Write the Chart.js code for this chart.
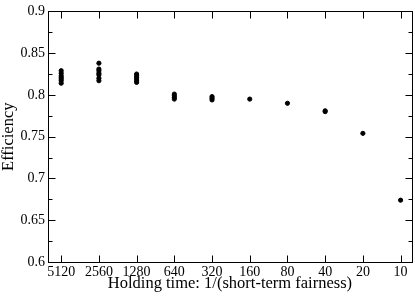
<!DOCTYPE html>
<html>
<head>
<meta charset="utf-8">
<script src="https://cdn.jsdelivr.net/npm/chart.js@4"></script>
<style>
  html, body { margin: 0; padding: 0; background: #fff; }
</style>
</head>
<body>
<canvas id="chart" width="415" height="296"></canvas>
<script>
// holding time categories (left to right)
const categories = ['5120', '2560', '1280', '640', '320', '160', '80', '40', '20', '10'];

// efficiency of each run, one list per category
const efficiency = [
  [0.829, 0.826, 0.823, 0.821, 0.819, 0.817, 0.814],
  [0.838, 0.831, 0.829, 0.826, 0.824, 0.820, 0.817],
  [0.825, 0.823, 0.821, 0.819, 0.817, 0.815],
  [0.801, 0.799, 0.797, 0.795],
  [0.798, 0.796, 0.794],
  [0.795],
  [0.790],
  [0.780, 0.781],
  [0.754],
  [0.674]
];

const yTicks = [0.6, 0.65, 0.7, 0.75, 0.8, 0.85, 0.9];

const points = [];
efficiency.forEach(function (list, i) {
  list.forEach(function (v) { points.push({ x: i, y: v }); });
});

// frame with inward ticks on all four sides
const frameTicks = {
  id: 'frameTicks',
  afterDraw: function (chart) {
    const ctx = chart.ctx;
    const a = chart.chartArea;
    const xs = chart.scales.x;
    const ys = chart.scales.y;
    const L = Math.round(a.left) + 0.5, R = Math.round(a.right) + 0.5;
    const T = Math.round(a.top) + 0.5, B = Math.round(a.bottom) + 0.5;
    ctx.save();
    ctx.strokeStyle = '#000';
    ctx.lineWidth = 1;
    ctx.beginPath();
    categories.forEach(function (c, i) {
      const px = Math.round(xs.getPixelForValue(i)) + 0.5;
      ctx.moveTo(px, B); ctx.lineTo(px, B - 7);
      ctx.moveTo(px, T); ctx.lineTo(px, T + 7);
    });
    for (let k = 0; k <= 12; k++) {
      const v = 0.6 + k * 0.025;
      const py = Math.round(ys.getPixelForValue(v)) + 0.5;
      const len = k % 2 === 0 ? 7 : 4;
      ctx.moveTo(L, py); ctx.lineTo(L + len, py);
      ctx.moveTo(R, py); ctx.lineTo(R - len, py);
    }
    ctx.stroke();
    ctx.strokeRect(L, T, R - L, B - T);
    ctx.restore();
  }
};

new Chart(document.getElementById('chart').getContext('2d'), {
  type: 'scatter',
  data: {
    datasets: [{
      data: points,
      backgroundColor: '#000',
      borderColor: '#000',
      pointRadius: 2.1,
      pointHoverRadius: 2.1
    }]
  },
  options: {
    responsive: false,
    devicePixelRatio: 1,
    animation: false,
    layout: { padding: { left: 0, right: 3, top: 5, bottom: 0 } },
    plugins: { legend: { display: false }, tooltip: { enabled: false } },
    scales: {
      x: {
        type: 'linear',
        min: -0.35,
        max: 9.3,
        afterBuildTicks: function (scale) {
          scale.ticks = categories.map(function (c, i) { return { value: i }; });
        },
        afterFit: function (scale) { scale.height = 34; },
        grid: { display: false, drawTicks: false },
        border: { display: false },
        ticks: {
          color: '#000',
          padding: 2,
          maxRotation: 0,
          autoSkip: false,
          font: { family: 'Liberation Serif', size: 14 },
          callback: function (v) { return categories[v]; }
        },
        title: {
          display: true,
          text: 'Holding time: 1/(short-term fairness)',
          color: '#000',
          padding: { top: 0, bottom: 2 },
          font: { family: 'Liberation Serif', size: 16.5 }
        }
      },
      y: {
        min: 0.6,
        max: 0.9,
        afterBuildTicks: function (scale) {
          scale.ticks = yTicks.map(function (v) { return { value: v }; });
        },
        afterFit: function (scale) { scale.width = 48; },
        grid: { display: false, drawTicks: false },
        border: { display: false },
        ticks: {
          color: '#000',
          padding: 3,
          font: { family: 'Liberation Serif', size: 14 },
          callback: function (v) { return String(Number(v.toFixed(2))); }
        },
        title: {
          display: true,
          text: 'Efficiency',
          color: '#000',
          padding: { top: -1, bottom: 0 },
          font: { family: 'Liberation Serif', size: 16.5 }
        }
      }
    }
  },
  plugins: [frameTicks]
});
</script>
</body>
</html>
